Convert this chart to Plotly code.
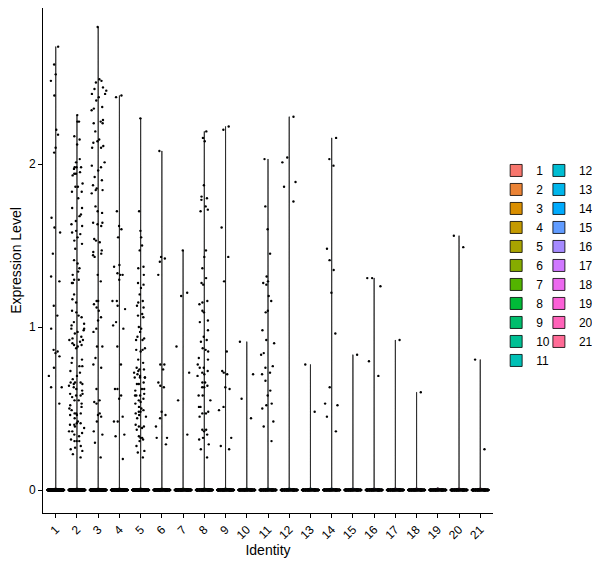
import math
import plotly.graph_objects as go

# cluster identities and expression values
clusters = [str(i) for i in range(1, 22)]

# cells with zero expression in each cluster (the thick line at 0)
n_zero = [260, 250, 240, 230, 220, 200, 190, 180, 170, 160, 150,
          150, 150, 150, 150, 150, 150, 150, 150, 150, 150]

c1 = [2.72, 2.61, 2.55, 2.51, 2.42, 2.21, 2.18, 2.10, 2.07, 1.67, 1.61, 1.58, 1.45, 1.31,
      1.28, 1.13, 1.07, 0.99, 0.86, 0.85, 0.84, 0.82, 0.75, 0.70, 0.63, 0.63, 0.53]
c2 = [2.30, 2.26, 2.26, 2.17, 2.15, 2.12, 2.03, 2.01, 1.98, 1.97, 1.98, 1.98, 1.94, 1.93,
      1.94, 1.95, 1.86, 1.88, 1.86, 1.83, 1.83, 1.79, 1.73, 1.73, 1.69, 1.68, 1.65, 1.63,
      1.62, 1.58, 1.59, 1.57, 1.55, 1.53, 1.51, 1.48, 1.41, 1.39, 1.36, 1.34, 1.32, 1.29,
      1.29, 1.27, 1.27, 1.20, 1.17, 1.15, 1.09, 1.10, 1.07, 1.06, 1.02, 1.01, 1.03, 0.99,
      0.98, 0.97, 0.99, 0.96, 0.94, 0.93, 0.92, 0.92, 0.91, 0.90, 0.89, 0.87, 0.88, 0.89,
      0.81, 0.80, 0.78, 0.76, 0.76, 0.73, 0.72, 0.70, 0.66, 0.65, 0.66, 0.66, 0.64, 0.63,
      0.62, 0.65, 0.59, 0.58, 0.59, 0.58, 0.57, 0.55, 0.55, 0.52, 0.51, 0.50, 0.47, 0.47,
      0.46, 0.47, 0.46, 0.42, 0.41, 0.41, 0.40, 0.40, 0.39, 0.36, 0.36, 0.35, 0.34, 0.31,
      0.30, 0.30, 0.30, 0.27, 0.26, 0.24, 0.22, 0.20, 0.25, 0.33, 0.38, 0.44, 0.49, 0.53,
      0.61, 0.68]
c3 = [2.84, 2.51, 2.50, 2.52, 2.47, 2.46, 2.43, 2.43, 2.45, 2.41, 2.39, 2.34, 2.35, 2.33,
      2.27, 2.25, 2.25, 2.26, 2.20, 2.15, 2.14, 2.13, 2.11, 2.10, 2.10, 2.01, 1.99, 1.98,
      1.96, 1.92, 1.90, 1.87, 1.85, 1.84, 1.84, 1.82, 1.74, 1.71, 1.70, 1.64, 1.64, 1.63,
      1.62, 1.53, 1.54, 1.52, 1.47, 1.46, 1.45, 1.44, 1.43, 1.32, 1.28, 1.16, 1.16, 1.14,
      1.12, 1.10, 1.06, 1.04, 0.99, 0.97, 0.88, 0.88, 0.81, 0.75, 0.77, 0.62, 0.55, 0.54,
      0.53, 0.47, 0.46, 0.45, 0.42, 0.36, 0.34, 0.29, 0.20]
c4 = [2.42, 2.41, 1.71, 1.62, 1.60, 1.55, 1.38, 1.37, 1.33, 1.32, 1.32, 1.29, 1.16, 1.16,
      1.13, 1.11, 1.03, 1.01, 0.99, 0.88, 0.77, 0.62, 0.62, 0.58, 0.56, 0.45, 0.42, 0.42,
      0.34, 0.33, 0.19]
c5 = [2.28, 1.71, 1.59, 1.55, 1.50, 1.47, 1.37, 1.36, 1.32, 1.26, 1.27, 1.24, 1.20, 1.15,
      1.13, 1.12, 1.16, 1.08, 1.06, 1.07, 1.00, 0.99, 0.97, 0.94, 0.92, 0.92, 0.93, 0.85,
      0.86, 0.87, 0.86, 0.80, 0.78, 0.74, 0.74, 0.75, 0.73, 0.72, 0.71, 0.69, 0.69, 0.69,
      0.70, 0.69, 0.66, 0.65, 0.65, 0.62, 0.61, 0.62, 0.58, 0.58, 0.58, 0.59, 0.55, 0.56,
      0.54, 0.51, 0.49, 0.53, 0.50, 0.47, 0.45, 0.46, 0.44, 0.48, 0.48, 0.40, 0.39, 0.38,
      0.39, 0.37, 0.33, 0.32, 0.31, 0.32, 0.30, 0.27, 0.23, 0.24, 0.20]
c6 = [2.08, 1.43, 1.42, 1.40, 1.32, 0.77, 0.77, 0.74, 0.66, 0.64, 0.63, 0.48, 0.46, 0.44,
      0.39, 0.32, 0.32, 0.28]
c7 = [1.47, 1.21, 1.19, 0.88, 0.72, 0.55, 0.34]
c8 = [2.20, 2.16, 2.14, 1.87, 1.80, 1.79, 1.78, 1.74, 1.72, 1.71, 1.47, 1.43, 1.36, 1.30,
      1.27, 1.26, 1.16, 1.15, 1.14, 1.10, 1.09, 1.04, 1.03, 0.98, 0.92, 0.94, 0.91, 0.87,
      0.86, 0.85, 0.81, 0.80, 0.77, 0.75, 0.75, 0.73, 0.72, 0.71, 0.70, 0.66, 0.66, 0.64,
      0.63, 0.63, 0.58, 0.58, 0.55, 0.51, 0.51, 0.47, 0.47, 0.48, 0.45, 0.37, 0.37, 0.36,
      0.34, 0.32, 0.31, 0.28, 0.25, 0.20]
c9 = [2.23, 2.21, 1.61, 1.43, 1.28, 0.85, 0.73, 0.72, 0.71, 0.63, 0.62, 0.51, 0.49, 0.32,
      0.27, 0.25]
c10 = [0.91, 0.71, 0.56, 0.44]
c11 = [2.03, 1.74, 1.60, 1.45, 1.31, 1.28, 1.27, 1.26, 1.19, 1.16, 1.10, 1.09, 0.98, 0.92,
       0.90, 0.84, 0.83, 0.76, 0.75, 0.72, 0.71, 0.67, 0.61, 0.58, 0.53, 0.52, 0.50, 0.42,
       0.39, 0.30]
c12 = [2.29, 2.04, 2.01, 1.89, 1.86, 1.77]
c13 = [0.77, 0.48]
c14 = [2.16, 2.03, 1.99, 1.48, 1.41, 1.35, 1.21, 0.96, 0.63, 0.53, 0.52, 0.45, 0.36]
c15 = [0.83]
c16 = [1.30, 1.30, 1.25, 0.79, 0.70]
c17 = [0.92]
c18 = [0.60]
c19 = []
c20 = [1.56, 1.49]
c21 = [0.80, 0.25]

nonzero = [c1, c2, c3, c4, c5, c6, c7, c8, c9, c10, c11,
           c12, c13, c14, c15, c16, c17, c18, c19, c20, c21]


# ggplot style hue palette (hcl, l=65, c=100)
def hcl_hex(h, c=100, l=65):
    hr = math.radians(h)
    u = c * math.cos(hr)
    v = c * math.sin(hr)
    Y = ((l + 16) / 116) ** 3
    Xn, Yn, Zn = 0.95047, 1.0, 1.08883
    un = 4 * Xn / (Xn + 15 * Yn + 3 * Zn)
    vn = 9 * Yn / (Xn + 15 * Yn + 3 * Zn)
    up = u / (13 * l) + un
    vp = v / (13 * l) + vn
    X = 9 * Y * up / (4 * vp)
    Z = Y * (12 - 3 * up - 20 * vp) / (4 * vp)
    rgb = [3.2404542 * X - 1.5371385 * Y - 0.4985314 * Z,
           -0.9692660 * X + 1.8760108 * Y + 0.0415560 * Z,
           0.0556434 * X - 0.2040259 * Y + 1.0572252 * Z]
    out = []
    for ch in rgb:
        ch = 12.92 * ch if ch <= 0.0031308 else 1.055 * ch ** (1 / 2.4) - 0.055
        out.append(int(round(min(max(ch, 0), 1) * 255)))
    return "#%02X%02X%02X" % tuple(out)


colors = [hcl_hex(15 + 360 * i / 21) for i in range(21)]

# invisible violin, only used to carry jittered points
hidden = dict(line=dict(width=0, color="rgba(0,0,0,0)"), fillcolor="rgba(0,0,0,0)",
              width=0.9, points="all", jitter=0.85, pointpos=0, showlegend=False,
              marker=dict(color="black", size=2.4, line=dict(width=0)),
              hoverinfo="skip")

fig = go.Figure()
for i, name in enumerate(clusters):
    vals = [0.0] * n_zero[i] + nonzero[i]
    span_opts = dict(spanmode="hard")
    if not nonzero[i]:
        span_opts = dict(spanmode="manual", span=[0, 0.015])
    # the violin outline (all cells)
    fig.add_trace(go.Violin(
        x=[name] * len(vals), y=vals, name=name,
        legend="legend" if i < 11 else "legend2",
        fillcolor=colors[i],
        line=dict(color="black", width=0.8),
        width=0.9, bandwidth=0.005, scalemode="width",
        points=False, hoverinfo="skip", **span_opts,
    ))
    # zero cells, jittered on their own
    fig.add_trace(go.Violin(x=[name] * n_zero[i], y=[0.0] * n_zero[i],
                            name=name, **hidden))
    # expressing cells
    if nonzero[i]:
        fig.add_trace(go.Violin(x=[name] * len(nonzero[i]), y=nonzero[i],
                                name=name, spanmode="hard", **hidden))

font = dict(family="Liberation Sans, Arial, sans-serif", color="black")

fig.update_layout(
    width=592,
    height=560,
    margin=dict(l=35, r=107, t=0, b=55, autoexpand=False),
    paper_bgcolor="white",
    plot_bgcolor="white",
    violinmode="overlay",
    font=font,
    showlegend=True,
    legend=dict(x=1.007, y=0.707, xanchor="left", yanchor="top",
                bgcolor="rgba(0,0,0,0)", font=dict(size=12),
                tracegroupgap=0, itemclick=False),
    legend2=dict(x=1.102, y=0.707, xanchor="left", yanchor="top",
                 bgcolor="rgba(0,0,0,0)", font=dict(size=12),
                 tracegroupgap=0, itemclick=False),
)

fig.update_xaxes(
    type="category",
    categoryorder="array",
    categoryarray=clusters,
    range=[-0.6, 20.6],
    showline=True, linecolor="black", linewidth=1,
    ticks="outside", ticklen=4, tickcolor="black",
    tickangle=-45, tickfont=dict(size=12),
    showgrid=False, zeroline=False, automargin=False,
    title=dict(text="Identity", font=dict(size=14), standoff=2),
)
fig.update_yaxes(
    range=[-0.141, 2.957],
    tickvals=[0, 1, 2],
    showline=True, linecolor="black", linewidth=1,
    ticks="outside", ticklen=4, tickcolor="black",
    tickfont=dict(size=12),
    showgrid=False, zeroline=False, automargin=False,
    title=dict(text="Expression Level", font=dict(size=14), standoff=6),
)

fig.write_html("out.html")
